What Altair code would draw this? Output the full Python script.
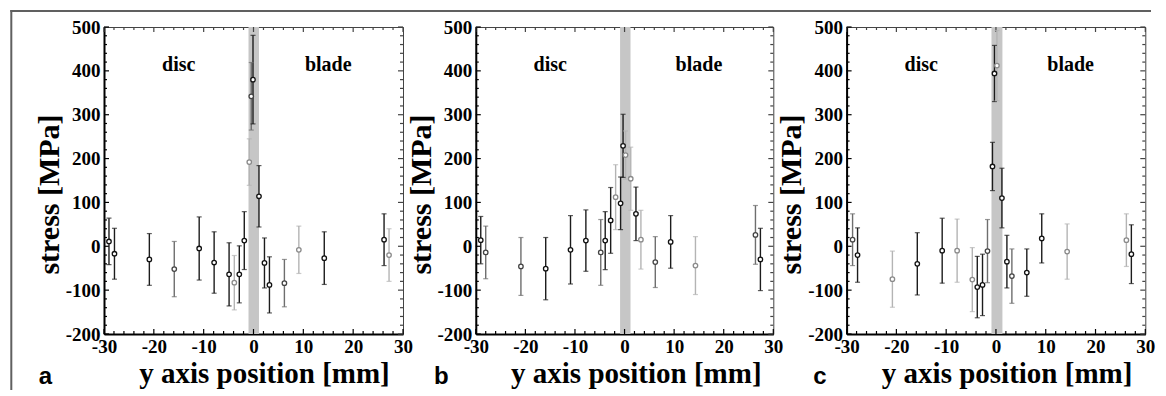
import altair as alt
import pandas as pd

# ---------------- data ----------------
# panel a
a_pos = [-29.0, -27.9, -20.9, -15.9, -10.9, -7.9, -4.9, -3.85, -2.85, -1.85, -0.85,
         -0.1, -0.45, 1.1, 2.2, 3.2, 6.2, 9.1, 14.2, 26.2, 27.2]
a_stress = [11, -17, -30, -52, -5, -37, -64, -83, -64, 13, 192,
            380, 342, 114, -38, -88, -84, -8, -27, 15, -20]
a_err = [53, 58, 59, 63, 72, 70, 72, 62, 65, 66, 53,
         101, 77, 70, 57, 64, 54, 54, 60, 59, 60]
a_shade = ["d", "d", "d", "m", "d", "d", "d", "l", "d", "d", "l",
           "d", "m", "d", "d", "d", "m", "l", "d", "d", "l"]

# panel b
b_pos = [-29.0, -28.0, -20.9, -15.9, -10.9, -7.8, -4.8, -3.9, -2.8, -1.8, -0.8,
         -0.3, 0.2, 1.25, 2.3, 3.3, 6.2, 9.3, 14.3, 26.4, 27.4]
b_stress = [14, -14, -46, -51, -8, 13, -14, 13, 59, 112, 98,
            229, 208, 154, 74, 15, -36, 10, -44, 26, -30]
b_err = [54, 60, 66, 71, 78, 70, 75, 66, 75, 74, 60,
         72, 55, 72, 61, 67, 58, 60, 66, 67, 71]
b_shade = ["d", "m", "m", "d", "d", "d", "m", "d", "d", "l", "d",
           "d", "l", "l", "d", "l", "m", "d", "l", "m", "d"]

# panel c
c_pos = [-28.8, -27.8, -20.8, -15.8, -10.8, -7.8, -4.75, -3.75, -2.7, -1.7, -0.7,
         -0.3, 0.2, 1.2, 2.2, 3.2, 6.2, 9.2, 14.3, 26.2, 27.2]
c_stress = [15, -20, -75, -40, -10, -10, -76, -93, -88, -11, 182,
            394, 412, 110, -35, -68, -60, 18, -12, 14, -18]
c_err = [59, 62, 64, 71, 74, 72, 73, 70, 70, 72, 55,
         64, 80, 68, 60, 62, 54, 56, 63, 60, 67]
c_shade = ["m", "d", "l", "d", "d", "l", "l", "d", "d", "m", "d",
           "d", "l", "d", "d", "m", "d", "d", "l", "l", "d"]

# interface bands (mm)
a_band = [-1.0, 1.1]
b_band = [-0.9, 1.2]
c_band = [-0.9, 1.3]

region_labels = ["disc", "blade"]
region_pos = [-15, 15]
region_stress = [413, 413]

panel_letters = ["a", "b", "c"]

x_ticks = [-30, -20, -10, 0, 10, 20, 30]
x_minor = [-28, -26, -24, -22, -18, -16, -14, -12, -8, -6, -4, -2,
           2, 4, 6, 8, 12, 14, 16, 18, 22, 24, 26, 28]
y_ticks = [-200, -100, 0, 100, 200, 300, 400, 500]
y_minor = [-180, -160, -140, -120, -80, -60, -40, -20, 20, 40, 60, 80,
           120, 140, 160, 180, 220, 240, 260, 280, 320, 340, 360, 380,
           420, 440, 460, 480]

# ---------------- styling ----------------
SERIF = "Liberation Serif"
SANS = "Liberation Sans"
H = 307
SHADES = ["d", "m", "l"]
BAR_COLORS = ["#1c1c1c", "#6e6e6e", "#b4b4b4"]
PT_COLORS = ["#111111", "#444444", "#8a8a8a"]

xs = alt.Scale(domain=[-30, 30], nice=False, zero=False)
ys = alt.Scale(domain=[-200, 500], nice=False, zero=False)
XT = "y axis position [mm]"
YT = "stress [MPa]"
xaxis = alt.Axis(values=x_ticks, title=XT, labelExpr="datum.value + ''")
yaxis = alt.Axis(values=y_ticks, title=YT, labelExpr="datum.value + ''")


def tick_layers(width):
    layers = []
    for vals, ln in ((x_ticks, 5), (x_minor, 3)):
        d = pd.DataFrame({"v": vals})
        X = alt.X("v:Q", scale=xs, axis=xaxis)
        layers.append(alt.Chart(d).mark_rule(color="black", strokeWidth=1.2).encode(
            x=X, y=alt.value(H), y2=alt.value(H - ln)))
        layers.append(alt.Chart(d).mark_rule(color="#444", strokeWidth=1.2).encode(
            x=X, y=alt.value(0), y2=alt.value(ln)))
    for vals, ln in ((y_ticks, 5), (y_minor, 3)):
        d = pd.DataFrame({"v": vals})
        Y = alt.Y("v:Q", scale=ys, axis=yaxis)
        layers.append(alt.Chart(d).mark_rule(color="black", strokeWidth=1.2).encode(
            y=Y, x=alt.value(0), x2=alt.value(ln)))
        layers.append(alt.Chart(d).mark_rule(color="#444", strokeWidth=1.2).encode(
            y=Y, x=alt.value(width), x2=alt.value(width - ln)))
    return layers


def panel(pos, stress, err, shade, band, letter, width, letter_dx, border=False):
    df = pd.DataFrame({
        "pos": pos,
        "stress": stress,
        "lo": [s - e for s, e in zip(stress, err)],
        "hi": [s + e for s, e in zip(stress, err)],
        "shade": shade,
    })
    X = alt.X("pos:Q", scale=xs, axis=xaxis)
    color = alt.Color("shade:N", scale=alt.Scale(domain=SHADES, range=BAR_COLORS), legend=None)

    band_df = pd.DataFrame({"x0": [band[0]], "x1": [band[1]]})
    band_layer = alt.Chart(band_df).mark_rect(color="#c6c6c6").encode(
        x=alt.X("x0:Q", scale=xs, axis=xaxis), x2="x1:Q",
        y=alt.value(0), y2=alt.value(H))

    bars = alt.Chart(df).mark_rule(strokeWidth=1.4).encode(
        x=X, y=alt.Y("lo:Q", scale=ys, axis=yaxis), y2="hi:Q", color=color)
    cap_lo = alt.Chart(df).mark_tick(orient="horizontal", size=5, thickness=1.2).encode(
        x=X, y=alt.Y("lo:Q", scale=ys, axis=yaxis), color=color)
    cap_hi = alt.Chart(df).mark_tick(orient="horizontal", size=5, thickness=1.2).encode(
        x=X, y=alt.Y("hi:Q", scale=ys, axis=yaxis), color=color)
    pts = alt.Chart(df).mark_point(shape="circle", filled=False, size=20,
                                   strokeWidth=1.3, fill="white", fillOpacity=1).encode(
        x=X, y=alt.Y("stress:Q", scale=ys, axis=yaxis),
        stroke=alt.Stroke("shade:N", scale=alt.Scale(domain=SHADES, range=PT_COLORS),
                          legend=None))

    reg_df = pd.DataFrame({"t": region_labels, "p": region_pos, "s": region_stress})
    regions = alt.Chart(reg_df).mark_text(font=SERIF, fontWeight="bold", fontSize=20,
                                          align="center", baseline="middle",
                                          color="black").encode(
        x=alt.X("p:Q", scale=xs, axis=xaxis), y=alt.Y("s:Q", scale=ys, axis=yaxis),
        text="t:N")

    let_df = pd.DataFrame({"t": [letter]})
    letter_layer = alt.Chart(let_df).mark_text(font=SANS, fontSize=24, fontWeight="bold",
                                               align="center", baseline="alphabetic",
                                               color="black").encode(
        x=alt.value(letter_dx), y=alt.value(357), text="t:N")

    layers = [band_layer] + tick_layers(width) + [bars, cap_lo, cap_hi, pts, regions,
                                                   letter_layer]
    if border:
        layers.append(alt.Chart(let_df).mark_rule(color="#606060", strokeWidth=2).encode(
            x=alt.value(-92.7), y=alt.value(-17), y2=alt.value(363)))
        layers.append(alt.Chart(let_df).mark_rule(color="#606060", strokeWidth=2).encode(
            x=alt.value(-93.7), x2=alt.value(1047), y=alt.value(-16)))
    return alt.layer(*layers).properties(width=width, height=H)


pa = panel(a_pos, a_stress, a_err, a_shade, a_band, panel_letters[0], 299, -58.7, border=True)
pb = panel(b_pos, b_stress, b_err, b_shade, b_band, panel_letters[1], 297.5, -34.5)
pc = panel(c_pos, c_stress, c_err, c_shade, c_band, panel_letters[2], 298.7, -26.6)

chart = alt.hconcat(pa, pb, pc, spacing=72.8, bounds="flush").properties(
    padding=0,
    background="white",
).configure_view(
    stroke="#444", strokeWidth=1
).configure_axis(
    labelFont=SERIF, labelFontWeight="bold", labelFontSize=19, labelColor="black",
    titleFont=SERIF, titleFontWeight="bold", titleColor="black",
    grid=False, ticks=False, domainColor="black", domainWidth=2,
).configure_axisX(
    titleFontSize=29, titleX=160, titleY=48, titleAlign="center",
    titleBaseline="alphabetic", labelPadding=3, labelFlush=False,
).configure_axisY(
    titleFontSize=30, titleX=-54.7, titleY=167, titleAngle=270, titleAlign="center",
    titleBaseline="middle", labelPadding=4,
)

chart.save("out.html", embed_options={"renderer": "svg", "actions": False})
